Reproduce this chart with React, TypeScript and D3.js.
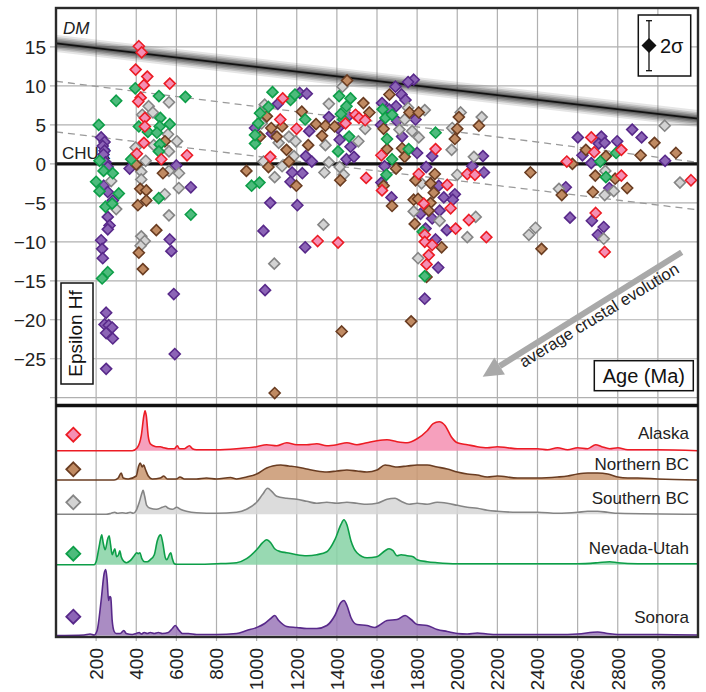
import React from 'react';
import * as d3 from 'd3';

const W = 706, H = 692;
const FONT = "'Liberation Sans', Arial, Helvetica, sans-serif";

// ---------- data ----------
const xTicks = [200, 400, 600, 800, 1000, 1200, 1400, 1600, 1800, 2000, 2200, 2400, 2600, 2800, 3000];
const yTicks = [15, 10, 5, 0, -5, -10, -15, -20, -25, -30];
const yLabelTicks = [15, 10, 5, 0, -5, -10, -15, -20, -25];
const seriesNames = ['Alaska', 'Northern BC', 'Southern BC', 'Nevada-Utah', 'Sonora'];

// depleted mantle & crustal evolution reference lines [age, eHf]
const dmLine: [number, number][] = [[0, 15.45], [3200, 5.8]];
const crustUpper: [number, number][] = [[0, 10.6], [3200, 0.2]];
const crustLower: [number, number][] = [[0, 4.1], [3200, -5.9]];

// eHf points [age Ma, eHf]
const alaskaPts: [number, number][] = [
  [413, 15.1], [427, 14.3], [397, 12.1], [455, 11.2], [438, 10.1], [567, 10.3], [422, 8.5], [410, 8.0], [443, 5.9], [443, 4.8], [438, 2.7], [403, 1.3], [525, 0.6], [653, 1.1],
  [1130, 8.4], [1118, 5.7], [1493, 6.3], [1510, 5.9], [1541, 5.6], [1443, 5.2], [1199, 4.5], [1068, 0.9], [1546, -1.8], [1304, -9.9], [1406, -10.1],
  [1892, 1.9], [1622, 1.1], [1808, -1.3], [2050, -1.3], [2088, -1.4], [1950, -2.7], [1625, -3.4], [1833, -5.1], [1967, -5.7], [2058, -7.2], [1992, -8.3], [1838, -9.1], [2145, -9.4], [1838, -10.0], [1875, -10.4], [1858, -11.7], [1847, -12.9],
  [2668, 3.4], [2818, 1.8], [2683, 1.5], [2546, 0.3], [2818, -1.5], [3165, -2.1], [2690, -6.3], [2735, -11.3],
];
const northernBCPts: [number, number][] = [
  [543, 2.9], [400, -0.1], [533, -1.2], [420, -3.2], [450, -3.4], [450, -4.7], [408, -5.3], [500, -8.5], [413, -11.4], [433, -13.5],
  [1451, 10.7], [1532, 7.8], [1051, 6.1], [1225, 6.7], [1296, 5.1], [1343, 4.9], [1389, 4.8], [1073, 4.6], [1127, 4.8], [1017, 3.5], [1326, 3.6], [1101, 3.5], [1257, 2.4], [1149, 1.8], [1161, 0.3], [949, -0.9], [1059, -0.4], [1198, -2.8], [1417, -2.1], [1424, -21.5], [1090, -29.4],
  [1662, 8.9], [1562, 6.6], [1762, 6.6], [1808, 6.6], [1633, 4.5], [2008, 6.0], [2108, 4.9], [2000, 4.5], [1988, 3.2], [1650, 1.9], [1725, 2.0], [1738, 0.9], [1695, -0.6], [1888, -1.3], [1792, -2.1], [1867, -2.5], [1883, -3.7], [1675, -5.4], [1783, -4.6], [1805, -4.5], [1867, -5.0], [1858, -6.0], [1788, -7.7], [1922, -10.7], [1847, -14.5], [1770, -20.2], [1633, -2.8],
  [2983, 2.7], [2641, 1.8], [2741, 1.0], [2914, 1.1], [3090, 1.4], [2574, 0.0], [2365, -1.1], [2688, -1.5], [2787, -1.9], [2521, -4.0], [2847, -3.1], [2676, -3.6], [2420, -10.9],
];
const southernBCPts: [number, number][] = [
  [462, 7.4], [563, 7.9], [430, 6.3], [483, 6.6], [558, 3.8], [603, 2.9], [487, 2.4], [397, 2.1], [563, 1.6], [447, 0.4], [425, -1.0], [563, -0.9], [613, -1.2], [425, -2.0], [612, -3.1], [542, -3.9], [563, -6.6], [425, -9.3], [442, -9.9], [422, -10.5], [275, -2.2], [300, -5.8],
  [1428, 9.9], [1360, 7.7], [1439, 6.9], [1541, 4.5], [1161, 3.5], [1507, 2.9], [1343, 2.4], [1186, 1.0], [1034, 0.3], [1360, 0.2], [1127, -0.3], [1414, -0.4], [1090, -1.7], [1338, -1.1], [1434, -1.4], [1333, -7.8], [1088, -12.8], [1025, 5.2], [1110, 2.7], [1194, 2.9], [1040, 7.6],
  [1755, 7.2], [1838, 6.9], [1738, 5.7], [1712, 4.4], [1775, 4.2], [1808, 3.4], [2017, 6.6], [2122, 6.0], [1975, 4.6], [1972, 1.8], [2083, 0.9], [1822, -2.5], [2000, -1.4], [1783, -6.1], [2092, -6.8], [1912, -7.3], [2050, -9.4], [1805, -12.1],
  [3034, 4.9], [2738, -0.9], [3110, -2.4], [2507, -3.2], [2780, -3.5], [2735, -4.0], [2390, -8.2], [2357, -9.1], [2730, -9.6],
];
const nevadaUtahPts: [number, number][] = [
  [395, 9.7], [300, 8.1], [513, 8.7], [645, 8.6], [520, 5.9], [567, 5.1], [413, 4.8], [517, 4.8], [458, 4.1], [503, 4.0], [517, 2.5], [513, 1.6], [375, 0.6], [512, -4.4], [672, -6.5], [213, 5.0], [217, 0.4], [237, -0.9], [283, -1.2], [200, -2.3], [217, -3.5], [313, -3.8], [247, -5.5], [280, -5.1], [258, -13.9], [230, -14.7],
  [1079, 9.2], [1169, 8.2], [1191, 8.9], [1411, 8.7], [1468, 8.4], [1059, 7.3], [1017, 6.5], [1242, 5.7], [992, 2.6], [1406, 1.6], [975, -2.8], [1014, -2.4], [1008, 5.2], [992, 3.7], [1431, 5.7], [1461, 3.5], [1448, 7.4], [1420, 6.4],
  [1628, 7.0], [1642, 5.9], [1675, 6.3], [1892, 4.0], [1650, 3.2], [1758, 1.9], [1675, 0.6], [1647, -1.4], [1828, -8.7], [1838, -14.4],
  [2792, 1.4], [2713, 0.3], [2741, -1.7],
];
const sonoraPts: [number, number][] = [
  [367, -0.6], [600, -0.2], [672, -3.0], [567, -9.7], [575, -11.2], [587, -16.7], [592, -24.4], [225, 3.4], [242, 2.8], [233, 2.3], [242, 1.7], [237, 1.2], [247, 0.2], [258, -0.4], [238, -2.8], [258, -3.6], [283, -4.7], [258, -6.8], [267, -7.9], [258, -8.4], [225, -9.8], [230, -10.9], [233, -12.1], [250, -19.1], [242, -20.6], [263, -20.7], [280, -21.0], [250, -21.7], [283, -22.4], [250, -26.3],
  [1215, 9.1], [1250, 9.0], [1360, 6.0], [1262, 4.2], [1414, 3.1], [1245, 1.0], [1275, 0.3], [1448, 0.6], [1485, 0.9], [1177, -1.1], [1228, -1.2], [1169, -2.3], [1068, -5.0], [1203, -5.3], [1034, -8.6], [1242, -10.7], [1042, -16.2], [992, 4.6], [1076, 3.9], [1106, 7.7], [1468, 2.2], [1406, 4.6], [1456, 6.1],
  [1783, 10.8], [1755, 10.5], [1692, 9.9], [1722, 8.9], [1742, 8.2], [1625, 7.8], [1695, 7.4], [1792, 5.7], [1725, 3.5], [1800, 1.4], [1875, 1.0], [2128, 1.0], [1638, -0.3], [1845, -0.4], [2075, -0.3], [2133, -1.1], [1622, -2.4], [1908, -2.8], [1933, -4.3], [1988, -3.9], [1672, -4.3], [1978, -4.6], [1912, -6.0], [1817, -6.4], [1875, -7.0], [1948, -8.5], [1842, -8.3], [1892, -9.7], [1905, -13.3], [1838, -17.3], [1660, 7.0], [1700, 5.5], [1620, 5.0],
  [2872, 4.4], [2919, 3.4], [2601, 3.4], [2718, 3.5], [2705, 2.6], [2735, 2.7], [2797, 2.9], [2624, 1.1], [3036, 0.4], [2668, 0.1], [2541, -3.0], [2758, -3.1], [2562, -6.9], [2671, -7.3], [2730, -8.1], [2701, -9.1],
];

// kernel density estimates [age Ma, relative probability]
const alaskaKde: [number, number][] = [
  [0, 0], [380, 0], [405, 3], [425, 15], [438, 35], [444, 40], [450, 35], [460, 14], [470, 7], [485, 5], [500, 4], [520, 4], [535, 3], [560, 2], [590, 2], [605, 5], [615, 2], [640, 2], [665, 5], [680, 2], [700, 1], [800, 1], [900, 2], [1000, 4], [1050, 6], [1100, 5], [1150, 8], [1200, 6], [1250, 6], [1300, 7], [1350, 5], [1400, 6], [1450, 8], [1500, 6], [1550, 8], [1600, 10], [1650, 11], [1700, 9], [1750, 8], [1800, 12], [1850, 20], [1880, 27], [1910, 29], [1940, 25], [1970, 14], [2000, 8], [2050, 6], [2100, 4], [2150, 3], [2200, 4], [2250, 3], [2300, 2], [2400, 2], [2450, 1], [2500, 3], [2550, 1], [2600, 3], [2650, 2], [2690, 6], [2720, 4], [2760, 2], [2800, 3], [2850, 1], [3000, 1], [3200, 0],
];
const northernBCKde: [number, number][] = [
  [0, 0], [290, 0], [310, 2], [325, 7], [335, 2], [360, 1], [400, 4], [412, 14], [420, 17], [430, 13], [437, 15], [447, 10], [460, 4], [480, 1], [520, 2], [537, 4], [555, 1], [600, 1], [618, 3], [640, 1], [700, 1], [750, 2], [800, 1], [870, 2.5], [900, 1], [950, 3], [1000, 6], [1050, 12], [1080, 14], [1120, 15], [1160, 14], [1200, 13], [1250, 11], [1300, 9], [1350, 8], [1400, 9], [1450, 10], [1500, 9], [1550, 8], [1600, 10], [1640, 15], [1670, 14], [1700, 13], [1750, 14], [1800, 15], [1850, 15], [1900, 13], [1950, 11], [2000, 8], [2050, 6], [2100, 5], [2150, 3], [2200, 4], [2300, 2], [2400, 2], [2500, 3], [2550, 4], [2600, 6], [2650, 7], [2700, 7], [2750, 6], [2800, 3], [2850, 2], [2900, 2], [3000, 1], [3200, 0],
];
const southernBCKde: [number, number][] = [
  [0, 0], [250, 0], [275, 1], [293, 2], [305, 1], [330, 1.5], [350, 1], [370, 2], [385, 1], [400, 4], [415, 12], [428, 21], [434, 24], [442, 18], [452, 9], [470, 6], [500, 5], [530, 7], [545, 8], [560, 6], [580, 5], [602, 7], [620, 5], [650, 3], [700, 1.5], [800, 1], [900, 2], [950, 5], [1000, 12], [1030, 20], [1055, 26], [1075, 23], [1100, 18], [1150, 16], [1200, 15], [1250, 13], [1300, 11], [1350, 12], [1400, 11], [1450, 12], [1500, 11], [1550, 10], [1600, 11], [1650, 15], [1690, 16], [1720, 13], [1760, 10], [1800, 11], [1850, 10], [1900, 12], [1950, 11], [2000, 9], [2050, 7], [2100, 6], [2150, 4], [2200, 3], [2300, 2], [2400, 2], [2500, 1], [2600, 2], [2650, 3], [2700, 3], [2750, 2], [2800, 1], [3200, 0],
];
const nevadaUtahKde: [number, number][] = [
  [0, 0], [190, 0], [200, 3], [215, 18], [228, 30], [235, 22], [245, 15], [258, 26], [265, 29], [272, 20], [280, 10], [293, 16], [302, 8], [312, 10], [318, 14], [325, 8], [340, 3], [351, 2], [370, 4], [390, 9], [403, 12], [410, 11], [418, 12], [428, 6], [442, 3], [455, 3], [470, 5], [490, 10], [505, 24], [515, 29], [522, 30], [532, 22], [545, 7], [552, 5], [565, 10], [572, 12], [580, 6], [590, 1], [600, 0.5], [700, 0.5], [800, 1], [900, 2], [950, 6], [1000, 15], [1030, 22], [1050, 25], [1070, 22], [1090, 16], [1120, 13], [1150, 12], [1200, 10], [1250, 9], [1300, 10], [1350, 13], [1390, 25], [1420, 40], [1435, 45], [1450, 40], [1470, 24], [1500, 12], [1550, 7], [1600, 8], [1640, 14], [1660, 16], [1680, 14], [1700, 9], [1720, 10], [1750, 9], [1780, 8], [1800, 5], [1850, 3], [1900, 2], [2000, 1], [2200, 1], [2400, 1], [2600, 1], [2700, 2], [2760, 3], [2800, 2], [2900, 1], [3200, 1],
];
const sonoraKde: [number, number][] = [
  [0, 0], [140, 0.5], [170, 1.5], [190, 0.5], [205, 5], [225, 35], [240, 62], [248, 66], [255, 55], [262, 35], [268, 39], [273, 38], [280, 15], [290, 4], [300, 2], [320, 2], [338, 5], [350, 2], [380, 1], [400, 2], [415, 3], [425, 1.5], [440, 3], [455, 2], [470, 3], [490, 2], [510, 3], [530, 2], [560, 3], [580, 7], [595, 10], [610, 6], [630, 2], [660, 2], [700, 1], [800, 1], [900, 2], [950, 5], [1000, 8], [1040, 12], [1070, 17], [1090, 20], [1110, 15], [1150, 9], [1200, 8], [1250, 7], [1300, 7], [1350, 10], [1390, 20], [1420, 33], [1435, 35], [1450, 30], [1470, 18], [1500, 11], [1550, 10], [1590, 8], [1610, 10], [1650, 15], [1700, 16], [1740, 20], [1770, 16], [1800, 11], [1850, 10], [1900, 6], [1950, 4], [2000, 2], [2050, 1.5], [2100, 2.5], [2150, 1.5], [2200, 1], [2500, 1], [2600, 1.5], [2700, 3.5], [2750, 2], [2800, 1], [3000, 1], [3200, 0.5],
];

const pointsBySeries = [alaskaPts, northernBCPts, southernBCPts, nevadaUtahPts, sonoraPts];
const kdeBySeries = [alaskaKde, northernBCKde, southernBCKde, nevadaUtahKde, sonoraKde];

// ---------- styles / layout ----------
const styles = [
  { stroke: '#ec1c24', fill: '#f48fb4', kdeFill: '#f48fb1' },
  { stroke: '#6a3d22', fill: '#c08a62', kdeFill: '#c99670' },
  { stroke: '#858585', fill: '#d3d3d3', kdeFill: '#d6d6d6' },
  { stroke: '#0d9e48', fill: '#4dbb7c', kdeFill: '#86d2a4' },
  { stroke: '#58298a', fill: '#8c64b6', kdeFill: '#9b78b8' },
];
const stripBase = [450.7, 480, 514.3, 564.7, 635.5];
const legendY = [434.7, 469.3, 502.3, 553.7, 616.7];
const labelY = [439, 470, 504, 554, 622.5];
const drawOrder = [4, 2, 1, 3, 0];
const dmWidths = [17, 13, 10, 7, 4];
const dmOpac = [0.14, 0.2, 0.26, 0.36, 0.5];

const L = 56, R = 698, T = 8, MID = 405.5, B = 637;

export default function App() {
  const x = d3.scaleLinear().domain([0, 3200]).range([L, R]);
  const y = d3.scaleLinear().domain([-31, 20]).range([MID, T]);
  const kdeY = d3.scaleLinear().domain([0, 66]).range([0, 66]);

  const refLine = d3.line<[number, number]>().x(d => x(d[0])).y(d => y(d[1]));

  const diamond = (cx: number, cy: number, r: number) =>
    `M${cx},${cy - r}L${cx + r},${cy}L${cx},${cy + r}L${cx - r},${cy}Z`;

  // arrow geometry
  const ax1 = 681.7, ay1 = 252.3, ax2 = 482.7, ay2 = 376.7;
  const ang = Math.atan2(ay2 - ay1, ax2 - ax1);
  const headLen = 20, headHalf = 10;
  const bx = ax2 - headLen * Math.cos(ang), by = ay2 - headLen * Math.sin(ang);
  const nx = -Math.sin(ang), ny = Math.cos(ang);

  return (
    <svg width={W} height={H} style={{ position: 'absolute', left: 0, top: 0, background: '#fff' }} fontFamily={FONT}>
      <defs>
        <clipPath id="topclip"><rect x={L} y={T} width={R - L} height={MID - T} /></clipPath>
        <clipPath id="botclip"><rect x={L} y={MID} width={R - L} height={B - MID} /></clipPath>
      </defs>
      <rect x={0} y={0} width={W} height={H} fill="#fff" />

      {/* grid */}
      {xTicks.map(t => (
        <line key={'gx' + t} x1={x(t)} x2={x(t)} y1={T} y2={B + 4} stroke="#b0b0b0" strokeWidth={1.2} />
      ))}
      {yTicks.map(t => (
        <line key={'gy' + t} x1={L - 6} x2={R} y1={y(t)} y2={y(t)} stroke="#b0b0b0" strokeWidth={1.2} />
      ))}

      {/* top panel reference lines */}
      <g clipPath="url(#topclip)">
        <path d={refLine(crustUpper) || ''} stroke="#9a9a9a" strokeWidth={1.3} strokeDasharray="7 5" fill="none" />
        <path d={refLine(crustLower) || ''} stroke="#9a9a9a" strokeWidth={1.3} strokeDasharray="7 5" fill="none" />
        {dmWidths.map((w, i) => (
          <path key={'dm' + i} d={refLine(dmLine) || ''} stroke="#444" strokeOpacity={dmOpac[i]} strokeWidth={w} fill="none" />
        ))}
        <path d={refLine(dmLine) || ''} stroke="#111" strokeWidth={1.8} fill="none" />
        <line x1={L} x2={R} y1={y(0)} y2={y(0)} stroke="#111" strokeWidth={3.2} />
      </g>

      {/* labels in top panel */}
      <text x={63} y={34} fontSize={17} fontStyle="italic" fill="#222">DM</text>
      <text x={62} y={159} fontSize={17} fill="#222">CHUR</text>

      {/* arrow */}
      <line x1={ax1} y1={ay1} x2={bx} y2={by} stroke="#a9a9a9" strokeWidth={6} />
      <path d={`M${ax2},${ay2}L${bx + nx * headHalf},${by + ny * headHalf}L${bx - nx * headHalf},${by - ny * headHalf}Z`} fill="#a9a9a9" />
      <text transform={`translate(602,320) rotate(-31.5)`} textAnchor="middle" fontSize={16.5} fill="#222">average crustal evolution</text>

      {/* points */}
      <g clipPath="url(#topclip)">
        {drawOrder.map(si => (
          <g key={'pts' + si}>
            {pointsBySeries[si].map((p, i) => (
              <path key={i} d={diamond(x(p[0]), y(p[1]), 5.5)} fill={styles[si].fill} stroke={styles[si].stroke} strokeWidth={1.6} />
            ))}
          </g>
        ))}
      </g>

      {/* 2 sigma box */}
      <rect x={638.3} y={15} width={52.4} height={61} fill="#fff" stroke="#111" strokeWidth={1.5} />
      <line x1={649} x2={649} y1={20.7} y2={70.7} stroke="#111" strokeWidth={1.3} />
      <line x1={646} x2={652} y1={20.7} y2={20.7} stroke="#111" strokeWidth={1.3} />
      <line x1={646} x2={652} y1={70.7} y2={70.7} stroke="#111" strokeWidth={1.3} />
      <path d={diamond(649, 45.5, 7.5)} fill="#111" />
      <text x={660} y={53} fontSize={20} fill="#111">2σ</text>

      {/* Epsilon Hf box */}
      <rect x={61} y={283} width={32} height={101} fill="#fff" stroke="#111" strokeWidth={1.5} />
      <text transform={`translate(82,333.5) rotate(-90)`} textAnchor="middle" fontSize={19} fill="#111">Epsilon Hf</text>

      {/* Age box */}
      <rect x={594.3} y={360.7} width={99} height={30} fill="#fff" stroke="#111" strokeWidth={1.5} />
      <text x={643.8} y={382.5} textAnchor="middle" fontSize={20} fill="#111">Age (Ma)</text>

      {/* KDE panel */}
      <g clipPath="url(#botclip)">
        {kdeBySeries.map((kd, si) => {
          const base = stripBase[si];
          const area = d3.area<[number, number]>().x(d => x(d[0])).y0(base).y1(d => base - kdeY(d[1])).curve(d3.curveMonotoneX);
          const ln = d3.line<[number, number]>().x(d => x(d[0])).y(d => base - kdeY(d[1])).curve(d3.curveMonotoneX);
          return (
            <g key={'kde' + si}>
              <path d={area(kd) || ''} fill={styles[si].kdeFill} fillOpacity={0.85} />
              <path d={ln(kd) || ''} fill="none" stroke={styles[si].stroke} strokeWidth={1.6} />
            </g>
          );
        })}
      </g>
      {seriesNames.map((n, si) => (
        <g key={'leg' + si}>
          <path d={diamond(73.3, legendY[si], 7)} fill={styles[si].fill} stroke={styles[si].stroke} strokeWidth={1.8} />
          <text x={689} y={labelY[si]} textAnchor="end" fontSize={17} fill="#222">{n}</text>
        </g>
      ))}

      {/* frames */}
      <rect x={L} y={T} width={R - L} height={B - T} fill="none" stroke="#2a2a2a" strokeWidth={2.4} />
      <line x1={L} x2={R} y1={MID} y2={MID} stroke="#111" strokeWidth={3.5} />

      {/* axes labels */}
      {yLabelTicks.map(t => (
        <text key={'yl' + t} x={46} y={y(t)} dy="0.36em" textAnchor="end" fontSize={19} fill="#222">
          {t < 0 ? '\u2212' + Math.abs(t) : String(t)}
        </text>
      ))}
      {xTicks.map(t => (
        <text key={'xl' + t} transform={`translate(${x(t)},648) rotate(-90)`} dy="0.36em" textAnchor="end" fontSize={19} fill="#222">{t}</text>
      ))}
    </svg>
  );
}
